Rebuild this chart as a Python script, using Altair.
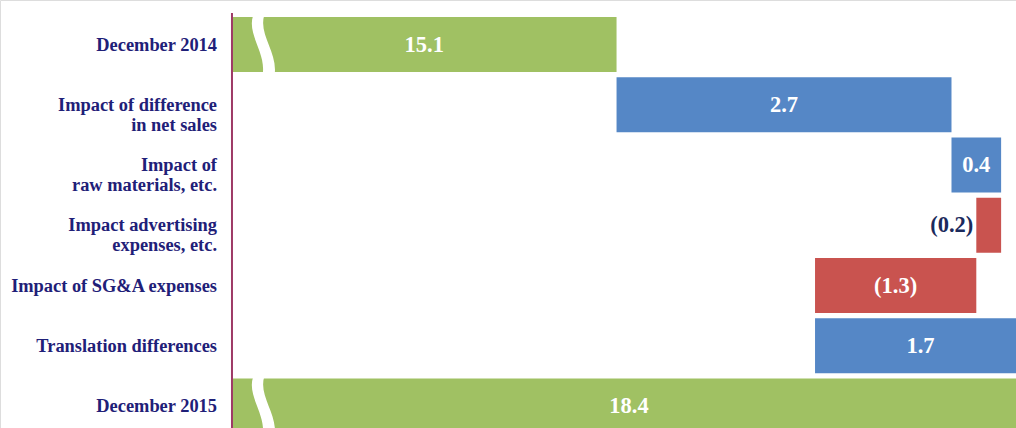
import altair as alt
import pandas as pd

# ---- data ----
categories = [
    "December 2014",
    "Impact of difference\nin net sales",
    "Impact of\nraw materials, etc.",
    "Impact advertising\nexpenses, etc.",
    "Impact of SG&A expenses",
    "Translation differences",
    "December 2015",
]
kinds = ["total", "delta", "delta", "delta", "delta", "delta", "total"]
values = [15.1, 2.7, 0.4, -0.2, -1.3, 1.7, 18.4]

axis_start = 12.0      # value where the broken axis begins
break_at = 12.26       # position of the axis-break marker on total bars
x_domain = [10.13, 18.32]

GREEN = "#a0c163"
BLUE = "#5587c6"
RED = "#c9534f"
NAVY = "#1f2078"
DARK_NAVY = "#1b2a5c"
AXIS = "#9e3a66"

rows = []
running = 0.0
for i, (c, k, v) in enumerate(zip(categories, kinds, values)):
    if k == "total":
        start, end = axis_start, v
        running = v
        color = GREEN
    else:
        start, end = running, running + v
        running = end
        color = BLUE if v >= 0 else RED
    lo, hi = min(start, end), max(start, end)
    label = f"{abs(v):.1f}" if v >= 0 else f"({abs(v):.1f})"
    rows.append(dict(cat=c, row=i, lo=lo, hi=hi, mid=(lo + hi) / 2,
                     y0=i - 0.456, y1=i + 0.456, color=color,
                     label=label, inside=(hi - lo) > 0.3))
df = pd.DataFrame(rows)

xs = alt.Scale(domain=x_domain, nice=False, zero=False)
ys = alt.Scale(domain=[-0.7386, 6.365], reverse=True, nice=False, zero=False)

base = alt.Chart(df)

bars = base.mark_rect(clip=True).encode(
    x=alt.X("lo:Q", scale=xs, axis=None),
    x2="hi:Q",
    y=alt.Y("y0:Q", scale=ys, axis=None),
    y2="y1:Q",
    color=alt.Color("color:N", scale=None),
)

break_path = ("M -0.38,-1 C -0.6,-0.35 0.05,0.25 -0.05,1 "
              "L 0.36,1 C 0.45,0.25 -0.2,-0.35 0.0,-1 Z")
breaks = base.transform_filter(alt.datum.color == GREEN).mark_point(
    shape=break_path, filled=True, color="white", opacity=1, size=3400,
    strokeWidth=0,
).encode(
    x=alt.X(datum=break_at, scale=xs),
    y=alt.Y("row:Q", scale=ys),
)

inside_text = base.transform_filter(alt.datum.inside).mark_text(
    font="Liberation Serif", fontWeight="bold", fontSize=22.5, color="white",
    baseline="middle", clip=True,
).encode(
    x=alt.X("mid:Q", scale=xs),
    y=alt.Y("row:Q", scale=ys),
    text="label:N",
)

outside_text = base.transform_filter(~alt.datum.inside).mark_text(
    font="Liberation Serif", fontWeight="bold", fontSize=22.5, color=DARK_NAVY,
    baseline="middle", align="right", dx=-3,
).encode(
    x=alt.X("lo:Q", scale=xs),
    y=alt.Y("row:Q", scale=ys),
    text="label:N",
)

cat_text = base.mark_text(
    font="Liberation Serif", fontWeight="bold", fontSize=18.4, color=NAVY,
    baseline="middle", align="right", lineBreak="\n", lineHeight=20,
).encode(
    x=alt.value(217),
    y=alt.Y("row:Q", scale=ys),
    text="cat:N",
)

axis_line = alt.Chart(pd.DataFrame({"v": [axis_start]})).mark_rule(
    color=AXIS, strokeWidth=2
).encode(
    x=alt.X("v:Q", scale=xs),
    y=alt.value(13),
    y2=alt.value(428),
)

chart = alt.layer(bars, breaks, inside_text, outside_text, cat_text, axis_line).properties(
    width=1016, height=428, padding=0,
    autosize=alt.AutoSizeParams(type="none"),
).configure_view(stroke=None).configure(background="white")

chart.save("out.html", embed_options={"renderer": "svg", "actions": False})
